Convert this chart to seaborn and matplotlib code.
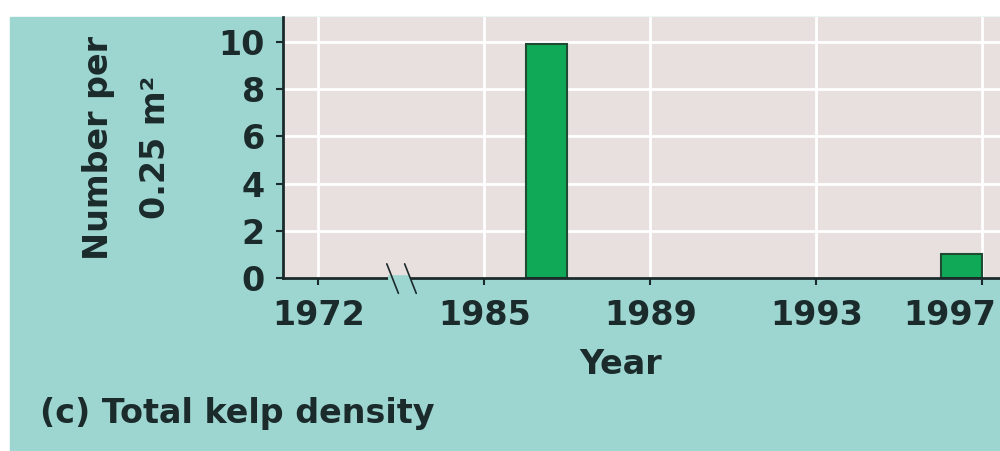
import matplotlib
matplotlib.use("Agg")
import matplotlib.pyplot as plt
import matplotlib.transforms as mtransforms
import pandas as pd
import seaborn as sns
from matplotlib.patches import Rectangle

# data
kelp_years = [1986, 1996]          # each bar covers one year
kelp_density = [9.9, 1.0]          # number per 0.25 m2
tick_years = [1972, 1985, 1989, 1993, 1997]
y_ticks = [0, 2, 4, 6, 8, 10]

TEAL = "#9dd5d1"
PANEL = "#e7e0de"
GREEN = "#10a957"
INK = "#1b2b2b"


def axis_pos(year):
    # broken axis: 1972 is drawn 4 years to the left of 1985
    return year if year >= 1985 else year - 1972 + 1981


df = pd.DataFrame({"pos": [axis_pos(y) + 0.5 for y in kelp_years],
                   "density": kelp_density})

sns.set_style("whitegrid", {"axes.facecolor": PANEL, "grid.color": "white",
                            "axes.edgecolor": INK})
plt.rcParams["font.family"] = ["DejaVu Sans"]
plt.rcParams["font.weight"] = "bold"

fig = plt.figure(figsize=(10, 4.51), dpi=100, facecolor="white")
fig.patches.append(Rectangle((0.010, 0), 1.0, (451 - 17) / 451,
                             transform=fig.transFigure, color=TEAL, zorder=-5))
ax = fig.add_axes([0.283, (451 - 278) / 451, 0.741, 261 / 451])

sns.barplot(data=df, x="pos", y="density", native_scale=True, width=0.1,
            color=GREEN, edgecolor="#1f4a33", linewidth=1.5, saturation=1,
            errorbar=None, ax=ax)

ax.set_xlim(1980.15, 1998)
ax.set_ylim(0, 11.06)
ax.set_xticks([axis_pos(y) for y in tick_years])
ax.set_xticklabels([str(y) for y in tick_years])
ax.set_yticks(y_ticks)
ax.grid(True, color="white", linewidth=2)
ax.set_axisbelow(True)

for side in ["top", "right"]:
    ax.spines[side].set_visible(False)
for side in ["left", "bottom"]:
    ax.spines[side].set_linewidth(2)
    ax.spines[side].set_color(INK)

ax.tick_params(axis="both", labelsize=24, colors=INK, length=5, width=1.5,
               direction="out", left=True, bottom=True)
ax.tick_params(axis="y", pad=8)
ax.tick_params(axis="x", pad=10)
for lab in ax.get_xticklabels() + ax.get_yticklabels():
    lab.set_fontweight("bold")

# last year label sits left of its tick so it stays inside the picture
last = ax.get_xticklabels()[-1]
last.set_horizontalalignment("right")
last.set_transform(last.get_transform() +
                   mtransforms.ScaledTranslation(0.14, 0, fig.dpi_scale_trans))

# break marks on the x axis between 1972 and 1985
ax.plot([1982.68, 1983.22], [0, 0], color=TEAL, linewidth=4, clip_on=False,
        zorder=5, solid_capstyle="butt")
for x0 in [1982.65, 1983.08]:
    ax.plot([x0, x0 + 0.28], [0.6, -0.65], color=INK, linewidth=1.2,
            clip_on=False, zorder=6)

ax.set_ylabel("Number per\n0.25 m²", fontsize=24, fontweight="bold",
              color=INK, linespacing=1.9)
ax.yaxis.set_label_coords(-0.15, 0.5)
ax.set_xlabel("Year", fontsize=24, fontweight="bold", color=INK)
ax.xaxis.set_label_coords(0.455, -0.27)

fig.text(0.040, 0.084, "(c) Total kelp density", fontsize=24,
         fontweight="bold", color=INK, ha="left", va="center")

fig.savefig("out.png", dpi=100, facecolor=fig.get_facecolor())
